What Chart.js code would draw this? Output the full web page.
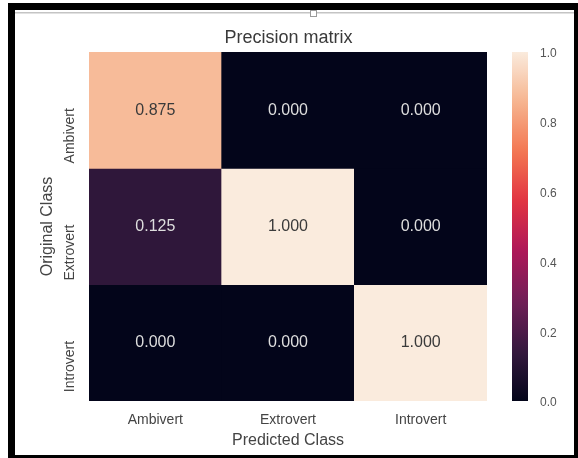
<!DOCTYPE html>
<html>
<head>
<meta charset="utf-8">
<title>Precision matrix</title>
<script src="https://cdn.jsdelivr.net/npm/chart.js@4/dist/chart.umd.min.js"></script>
<style>
  html, body { margin: 0; padding: 0; background: #fff; }
  #wrap { width: 578px; height: 458px; position: relative; }
</style>
</head>
<body>
<div id="wrap"><canvas id="cm" width="578" height="458"></canvas></div>
<script>
// Classes (rows = original, columns = predicted)
const originalClasses = ['Ambivert', 'Extrovert', 'Introvert'];
const predictedClasses = ['Ambivert', 'Extrovert', 'Introvert'];

// Precision values, one array per original class
const ambivertRow = [0.875, 0.000, 0.000];
const extrovertRow = [0.125, 1.000, 0.000];
const introvertRow = [0.000, 0.000, 1.000];
const matrixRows = [ambivertRow, extrovertRow, introvertRow];

// Colour bar ticks
const colorbarTicks = [0.0, 0.2, 0.4, 0.6, 0.8, 1.0];

// "rocket" colour map stops
const rocketStops = [
  [0.000, [3, 5, 26]],
  [1 / 7, [53, 25, 62]],
  [2 / 7, [112, 31, 87]],
  [3 / 7, [173, 23, 89]],
  [4 / 7, [225, 51, 66]],
  [5 / 7, [243, 118, 81]],
  [6 / 7, [246, 180, 143]],
  [1.000, [250, 235, 221]]
];

function rocket(v) {
  v = Math.max(0, Math.min(1, v));
  for (let i = 1; i < rocketStops.length; i++) {
    const [p1, c1] = rocketStops[i];
    const [p0, c0] = rocketStops[i - 1];
    if (v <= p1) {
      const t = (v - p0) / (p1 - p0);
      const c = c0.map((a, k) => Math.round(a + (c1[k] - a) * t));
      return `rgb(${c[0]},${c[1]},${c[2]})`;
    }
  }
  const c = rocketStops[rocketStops.length - 1][1];
  return `rgb(${c[0]},${c[1]},${c[2]})`;
}

const FONT = '"Liberation Sans", Arial, Helvetica, sans-serif';
Chart.defaults.font.family = FONT;

// Each original class is one row of floating bars spanning [row, row + 1]
const datasets = matrixRows.map((row, r) => ({
  label: originalClasses[r],
  data: row.map(() => [r, r + 1]),
  values: row,
  backgroundColor: row.map(rocket),
  borderWidth: 0,
  barPercentage: 1,
  categoryPercentage: 1,
  grouped: false,
  yAxisID: 'y',
  xAxisID: 'x'
}));

// Page frame drawn behind the chart
const framePlugin = {
  id: 'frame',
  beforeDraw(chart) {
    const ctx = chart.ctx;
    ctx.save();
    ctx.fillStyle = '#ffffff';
    ctx.fillRect(0, 0, chart.width, chart.height);
    ctx.fillStyle = '#000000';
    ctx.fillRect(8, 3, 570, 455);
    ctx.fillStyle = '#ffffff';
    ctx.fillRect(15, 10, 559, 445);
    ctx.fillStyle = '#c4c4c4';
    ctx.fillRect(15, 12, 559, 1.5);
    ctx.fillStyle = '#ffffff';
    ctx.strokeStyle = '#9a9a9a';
    ctx.lineWidth = 1;
    ctx.fillRect(310.5, 10.5, 6, 6);
    ctx.strokeRect(310.5, 10.5, 6, 6);
    ctx.restore();
  }
};

// Colour bar and its tick labels, placed with the 'cb' scale
const colorbarPlugin = {
  id: 'colorbar',
  afterDraw(chart) {
    const cb = chart.scales.cb;
    const ctx = chart.ctx;
    const top = cb.getPixelForValue(1);
    const bottom = cb.getPixelForValue(0);
    const x = cb.left + 25;
    const w = 16;
    const grad = ctx.createLinearGradient(0, bottom, 0, top);
    for (let i = 0; i <= 40; i++) grad.addColorStop(i / 40, rocket(i / 40));
    ctx.save();
    ctx.fillStyle = grad;
    ctx.fillRect(x, top, w, bottom - top);

    ctx.font = `12px ${FONT}`;
    ctx.fillStyle = '#555555';
    ctx.textAlign = 'left';
    ctx.textBaseline = 'middle';
    colorbarTicks.forEach(v => {
      ctx.fillText(v.toFixed(1), cb.left + 53, cb.getPixelForValue(v) + 2);
    });
    ctx.restore();
  }
};

// Cell values and rotated row labels
const annotatePlugin = {
  id: 'annotate',
  afterDatasetsDraw(chart) {
    const ctx = chart.ctx;
    ctx.save();
    ctx.font = `16px ${FONT}`;
    ctx.textAlign = 'center';
    ctx.textBaseline = 'middle';
    chart.data.datasets.forEach((ds, r) => {
      const meta = chart.getDatasetMeta(r);
      meta.data.forEach((el, c) => {
        const v = ds.values[c];
        const p = el.getCenterPoint();
        ctx.fillStyle = v > 0.5 ? '#3a3a3a' : '#dedede';
        ctx.fillText(v.toFixed(3), p.x, p.y);
      });
    });

    const y = chart.scales.y;
    ctx.font = `14px ${FONT}`;
    ctx.fillStyle = '#444444';
    ctx.textAlign = 'right';
    originalClasses.forEach((name, r) => {
      const cy = y.getPixelForValue(r + 0.5) - 2;
      ctx.save();
      ctx.translate(70, cy);
      ctx.rotate(-Math.PI / 2);
      ctx.fillText(name, 0, 0);
      ctx.restore();
    });
    ctx.restore();
  }
};

new Chart(document.getElementById('cm'), {
  type: 'bar',
  data: { labels: predictedClasses, datasets },
  options: {
    responsive: false,
    animation: false,
    events: [],
    layout: { padding: { left: 0, right: 1, top: 10, bottom: 0 } },
    plugins: {
      legend: { display: false },
      tooltip: { enabled: false },
      title: {
        display: true,
        text: 'Precision matrix',
        color: '#3a3a3a',
        font: { size: 18, weight: 'normal' },
        padding: { top: 17.2, bottom: 3.2 }
      }
    },
    scales: {
      x: {
        type: 'category',
        offset: true,
        grid: { display: false, drawTicks: false },
        border: { display: false },
        ticks: { color: '#444444', font: { size: 14 }, padding: 10.6, maxRotation: 0 },
        title: {
          display: true,
          text: 'Predicted Class',
          color: '#444444',
          font: { size: 16 },
          padding: { top: -7.6, bottom: 7.4 }
        }
      },
      y: {
        type: 'linear',
        position: 'left',
        min: 0,
        max: 3,
        reverse: true,
        grid: { display: false, drawTicks: false },
        border: { display: false },
        ticks: { display: false },
        title: {
          display: true,
          text: 'Original Class',
          color: '#444444',
          font: { size: 16 },
          padding: { top: 38.4, bottom: 0 }
        },
        afterFit(scale) { scale.width = 89; }
      },
      cb: {
        type: 'linear',
        axis: 'y',
        position: 'right',
        min: 0,
        max: 1,
        grid: { display: false, drawTicks: false },
        border: { display: false },
        ticks: { display: false },
        afterFit(scale) { scale.width = 90; }
      }
    }
  },
  plugins: [framePlugin, colorbarPlugin, annotatePlugin]
});
</script>
</body>
</html>
